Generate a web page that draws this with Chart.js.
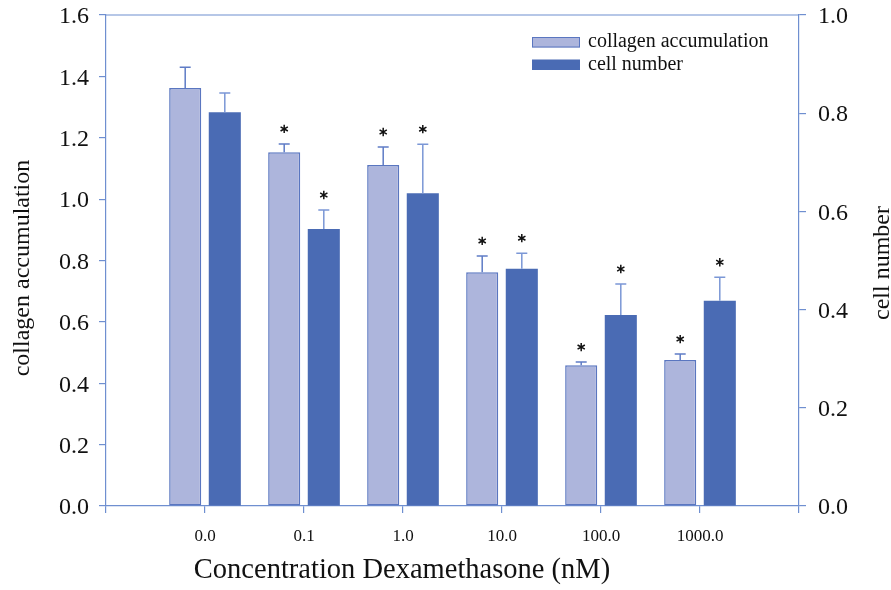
<!DOCTYPE html>
<html><head><meta charset="utf-8">
<script src="https://cdn.jsdelivr.net/npm/chart.js@4"></script>
<style>html,body{margin:0;padding:0;background:#fff}#wrap{width:891px;height:590px;position:relative}</style>
</head><body><div id="wrap"><canvas id="c"></canvas></div>
<script>
// ---- data ----
const categories = ['0.0', '0.1', '1.0', '10.0', '100.0', '1000.0'];
const collagenValues = [1.362, 1.153, 1.111, 0.762, 0.459, 0.476];
const collagenErrors = [0.068, 0.027, 0.059, 0.053, 0.010, 0.019];
const cellValues = [0.802, 0.564, 0.637, 0.483, 0.389, 0.418];
const cellErrors = [0.039, 0.039, 0.100, 0.032, 0.063, 0.048];
const collagenSignificant = [false, true, true, true, true, true];
const cellSignificant = [false, true, true, true, true, true];
const leftTickValues = [0.0, 0.2, 0.4, 0.6, 0.8, 1.0, 1.2, 1.4, 1.6];
const rightTickValues = [0.0, 0.2, 0.4, 0.6, 0.8, 1.0];
const seriesNames = ['collagen accumulation', 'cell number'];
const xTitle = 'Concentration Dexamethasone (nM)';
const yLeftTitle = 'collagen accumulation';
const yRightTitle = 'cell number';

// ---- styling ----
const FONT = "'Liberation Serif', 'DejaVu Serif', serif";
const AXIS = '#6f8fd0';
const LIGHT = '#adb5dc';
const LIGHT_BORDER = '#5a76c0';
const DARK = '#4a6bb4';

const labels = ['', ...categories, ''];
const pad = a => [null, ...a, null];

const errorPlugin = {
  id: 'errorBars',
  afterDatasetsDraw(chart) {
    const ctx = chart.ctx;
    chart.data.datasets.forEach((ds, i) => {
      const meta = chart.getDatasetMeta(i);
      const scale = chart.scales[meta.yAxisID];
      meta.data.forEach((el, j) => {
        const v = ds.data[j];
        if (v == null) return;
        const yTop = scale.getPixelForValue(v + ds.errors[j]);
        ctx.save();
        ctx.strokeStyle = ds.errorColor;
        ctx.lineWidth = 1.5;
        ctx.beginPath();
        ctx.moveTo(el.x, el.y);
        ctx.lineTo(el.x, yTop);
        ctx.moveTo(el.x - 5.5, yTop);
        ctx.lineTo(el.x + 5.5, yTop);
        ctx.stroke();
        if (ds.significant[j]) {
          const cx = el.x, cy = yTop - 15, r = 4.2;
          ctx.strokeStyle = '#111';
          ctx.lineWidth = 1.5;
          ctx.beginPath();
          for (let k = 0; k < 3; k++) {
            const a = Math.PI / 2 + k * Math.PI / 3;
            ctx.moveTo(cx - r * Math.cos(a), cy - r * Math.sin(a));
            ctx.lineTo(cx + r * Math.cos(a), cy + r * Math.sin(a));
          }
          ctx.stroke();
        }
        ctx.restore();
      });
    });
  }
};

const framePlugin = {
  id: 'frameAndText',
  afterDraw(chart) {
    const ctx = chart.ctx;
    const a = chart.chartArea;
    ctx.save();
    // top border
    ctx.strokeStyle = AXIS;
    ctx.lineWidth = 1.2;
    ctx.beginPath();
    ctx.moveTo(a.left, a.top);
    ctx.lineTo(a.right, a.top);
    ctx.stroke();
    // legend
    const lx = a.left + 426, ly = a.top + 22;
    chart.data.datasets.forEach((ds, i) => {
      const y = ly + i * 22.5;
      ctx.fillStyle = ds.backgroundColor;
      ctx.fillRect(lx, y, 48, 10.5);
      if (ds.borderWidth) {
        ctx.strokeStyle = ds.borderColor;
        ctx.lineWidth = 1;
        ctx.strokeRect(lx + 0.5, y + 0.5, 47, 9.5);
      }
      ctx.fillStyle = '#111';
      ctx.font = '20px ' + FONT;
      ctx.textAlign = 'left';
      ctx.textBaseline = 'middle';
      ctx.fillText(ds.label, lx + 56, y + 5);
    });
    // axis titles
    ctx.fillStyle = '#111';
    ctx.textBaseline = 'alphabetic';
    ctx.textAlign = 'center';
    ctx.font = '28.5px ' + FONT;
    ctx.fillText(xTitle, 402, 578);
    ctx.font = '24px ' + FONT;
    ctx.save();
    ctx.translate(29, 268);
    ctx.rotate(-Math.PI / 2);
    ctx.fillText(yLeftTitle, 0, 0);
    ctx.restore();
    ctx.save();
    ctx.translate(889, 263);
    ctx.rotate(-Math.PI / 2);
    ctx.fillText(yRightTitle, 0, 0);
    ctx.restore();
    ctx.restore();
  }
};

const noPad = s => { s.paddingTop = 0; s.paddingBottom = 0; s.paddingLeft = 0; s.paddingRight = 0; };

new Chart(document.getElementById('c'), {
  type: 'bar',
  data: {
    labels: labels,
    datasets: [
      {
        label: seriesNames[0],
        data: pad(collagenValues),
        errors: pad(collagenErrors),
        significant: pad(collagenSignificant),
        errorColor: '#5f7cc6',
        backgroundColor: LIGHT,
        borderColor: LIGHT_BORDER,
        borderWidth: 1.5,
        borderSkipped: false,
        yAxisID: 'y'
      },
      {
        label: seriesNames[1],
        data: pad(cellValues),
        errors: pad(cellErrors),
        significant: pad(cellSignificant),
        errorColor: '#7b97d6',
        backgroundColor: DARK,
        borderWidth: 0,
        yAxisID: 'y1'
      }
    ]
  },
  options: {
    responsive: true,
    maintainAspectRatio: false,
    animation: false,
    categoryPercentage: 0.8,
    barPercentage: 0.81,
    layout: { padding: { top: 15, left: 0, right: 0, bottom: 0 } },
    plugins: { legend: { display: false }, tooltip: { enabled: false } },
    scales: {
      x: {
        type: 'category',
        offset: false,
        grid: { offset: false, drawOnChartArea: false, drawTicks: true, tickLength: 7, color: AXIS, lineWidth: 1.2 },
        border: { display: true, color: AXIS, width: 1.2 },
        ticks: { color: '#111', font: { family: FONT, size: 17 }, padding: 13, maxRotation: 0, autoSkip: false },
        afterFit: s => { noPad(s); s.height = 84; }
      },
      y: {
        position: 'left',
        min: 0, max: 1.6,
        afterBuildTicks: s => { s.ticks = leftTickValues.map(v => ({ value: v })); },
        grid: { drawOnChartArea: false, drawTicks: true, tickLength: 7, color: AXIS, lineWidth: 1.2 },
        border: { display: true, color: AXIS, width: 1.2 },
        ticks: { color: '#111', font: { family: FONT, size: 24 }, padding: 10, labelOffset: 2,
                 callback: v => Number(v).toFixed(1) },
        afterFit: s => { noPad(s); s.width = 106; }
      },
      y1: {
        position: 'right',
        min: 0, max: 1.0,
        afterBuildTicks: s => { s.ticks = rightTickValues.map(v => ({ value: v })); },
        grid: { drawOnChartArea: false, drawTicks: true, tickLength: 7, color: AXIS, lineWidth: 1.2 },
        border: { display: true, color: AXIS, width: 1.2 },
        ticks: { color: '#111', font: { family: FONT, size: 24 }, padding: 12, labelOffset: 2,
                 callback: v => Number(v).toFixed(1) },
        afterFit: s => { noPad(s); s.width = 92; }
      }
    }
  },
  plugins: [errorPlugin, framePlugin]
});
</script>
</body></html>
